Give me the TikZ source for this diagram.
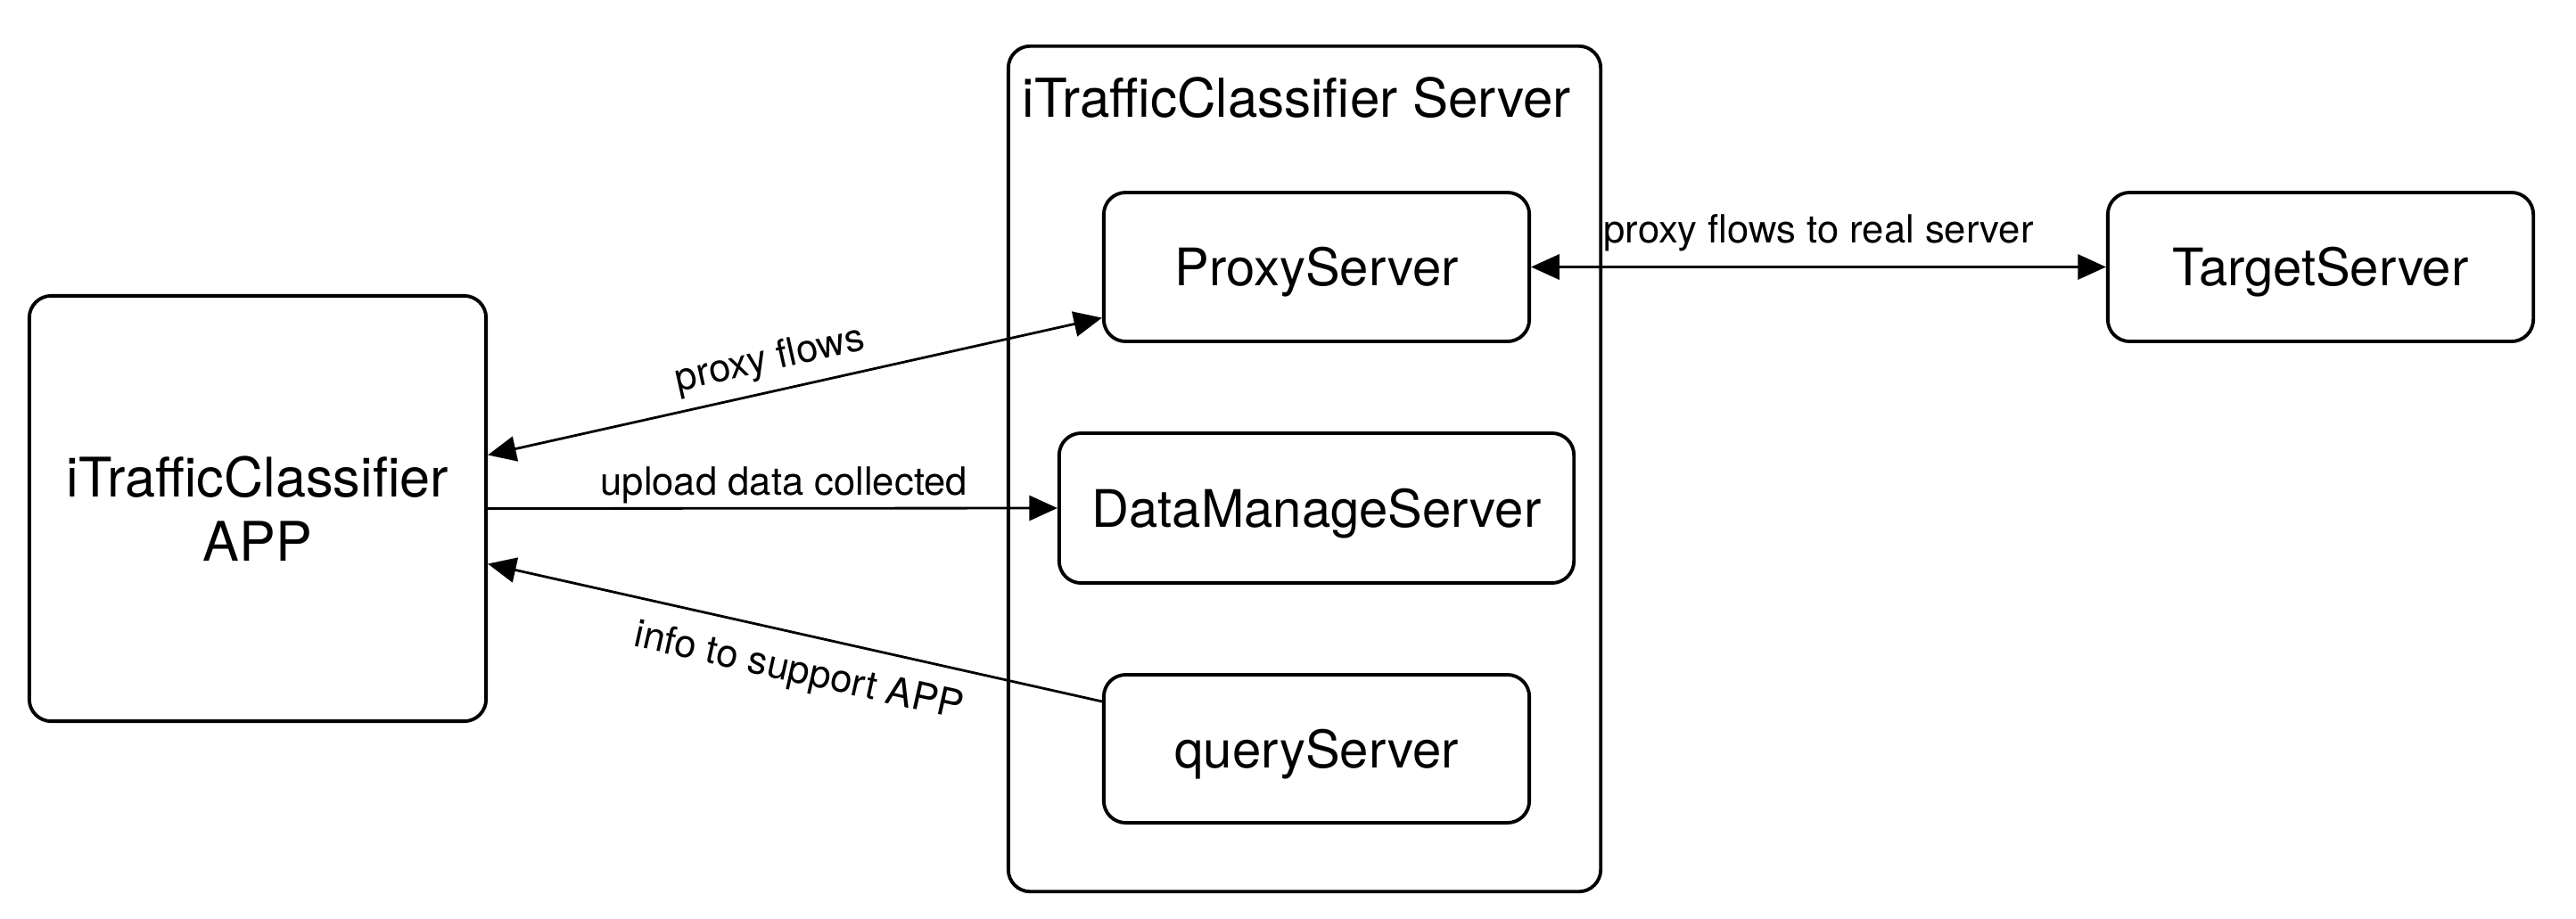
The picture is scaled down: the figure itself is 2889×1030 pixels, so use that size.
\documentclass[tikz,border=0pt]{standalone}
\usepackage{fontspec}
\setmainfont{TeX Gyre Heros}
\usetikzlibrary{calc,positioning,arrows.meta}
\tikzset{
mybox/.style={
  draw,
  line width=1.1pt,
  rounded corners=7pt,
  align=center,
  font=\fontsize{16.5}{20}\selectfont
  },
mysrv/.style={
  mybox,
  text height=12pt,
  text depth=0pt
  },
mylbl/.style={
  font=\fontsize{12.4}{14}\selectfont,
  inner sep=2pt
  }
}

\begin{document}
\begin{tikzpicture}[x=0.01cm,y=-0.01cm,>={Triangle[length=9pt,width=8pt]}]
            \useasboundingbox (0,0) rectangle (2889,1030);
            \node[mybox,minimum width=6.64cm,minimum height=9.48cm] (server) at (1463,526) {};
            \node[anchor=west,font=\fontsize{17.1}{20}\selectfont,inner sep=0pt] (title) at (1146,110) {iTrafficClassifier Server};
            \node[mybox,minimum width=5.12cm,minimum height=4.77cm,font=\fontsize{17.4}{20.5}\selectfont] (app) at (289,570.5) {iTrafficClassifier\\APP};
            \node[mysrv,minimum width=4.77cm,minimum height=1.67cm] (proxy) at (1476.5,299.5) {ProxyServer};
            \node[mysrv,minimum width=5.77cm,minimum height=1.68cm] (datamgr) at (1476.5,570) {DataManageServer};
            \node[mysrv,minimum width=4.77cm,minimum height=1.66cm] (query) at (1476.5,840) {queryServer};
            \node[mysrv,minimum width=4.77cm,minimum height=1.67cm] (target) at (2602.5,299.5) {TargetServer};
            \draw[<->,line width=0.8pt] ([yshift=0.6cm]app.east) -- node[mylbl,sloped,above=1.5pt,pos=0.47] {proxy flows} ([yshift=-0.57cm]proxy.west);
            \draw[->,line width=0.8pt] (app.east) -- node[mylbl,above=-1pt,pos=0.52] {upload data collected} (datamgr.west);
            \draw[<-,line width=0.8pt] ([yshift=-0.62cm]app.east) -- node[mylbl,sloped,below=4pt,pos=0.52] {info to support APP} ([yshift=0.53cm]query.west);
            \draw[<->,line width=0.8pt] (proxy.east) -- node[mylbl,above=2.5pt] {proxy flows to real server} (target.west);
        \end{tikzpicture}
\end{document}
